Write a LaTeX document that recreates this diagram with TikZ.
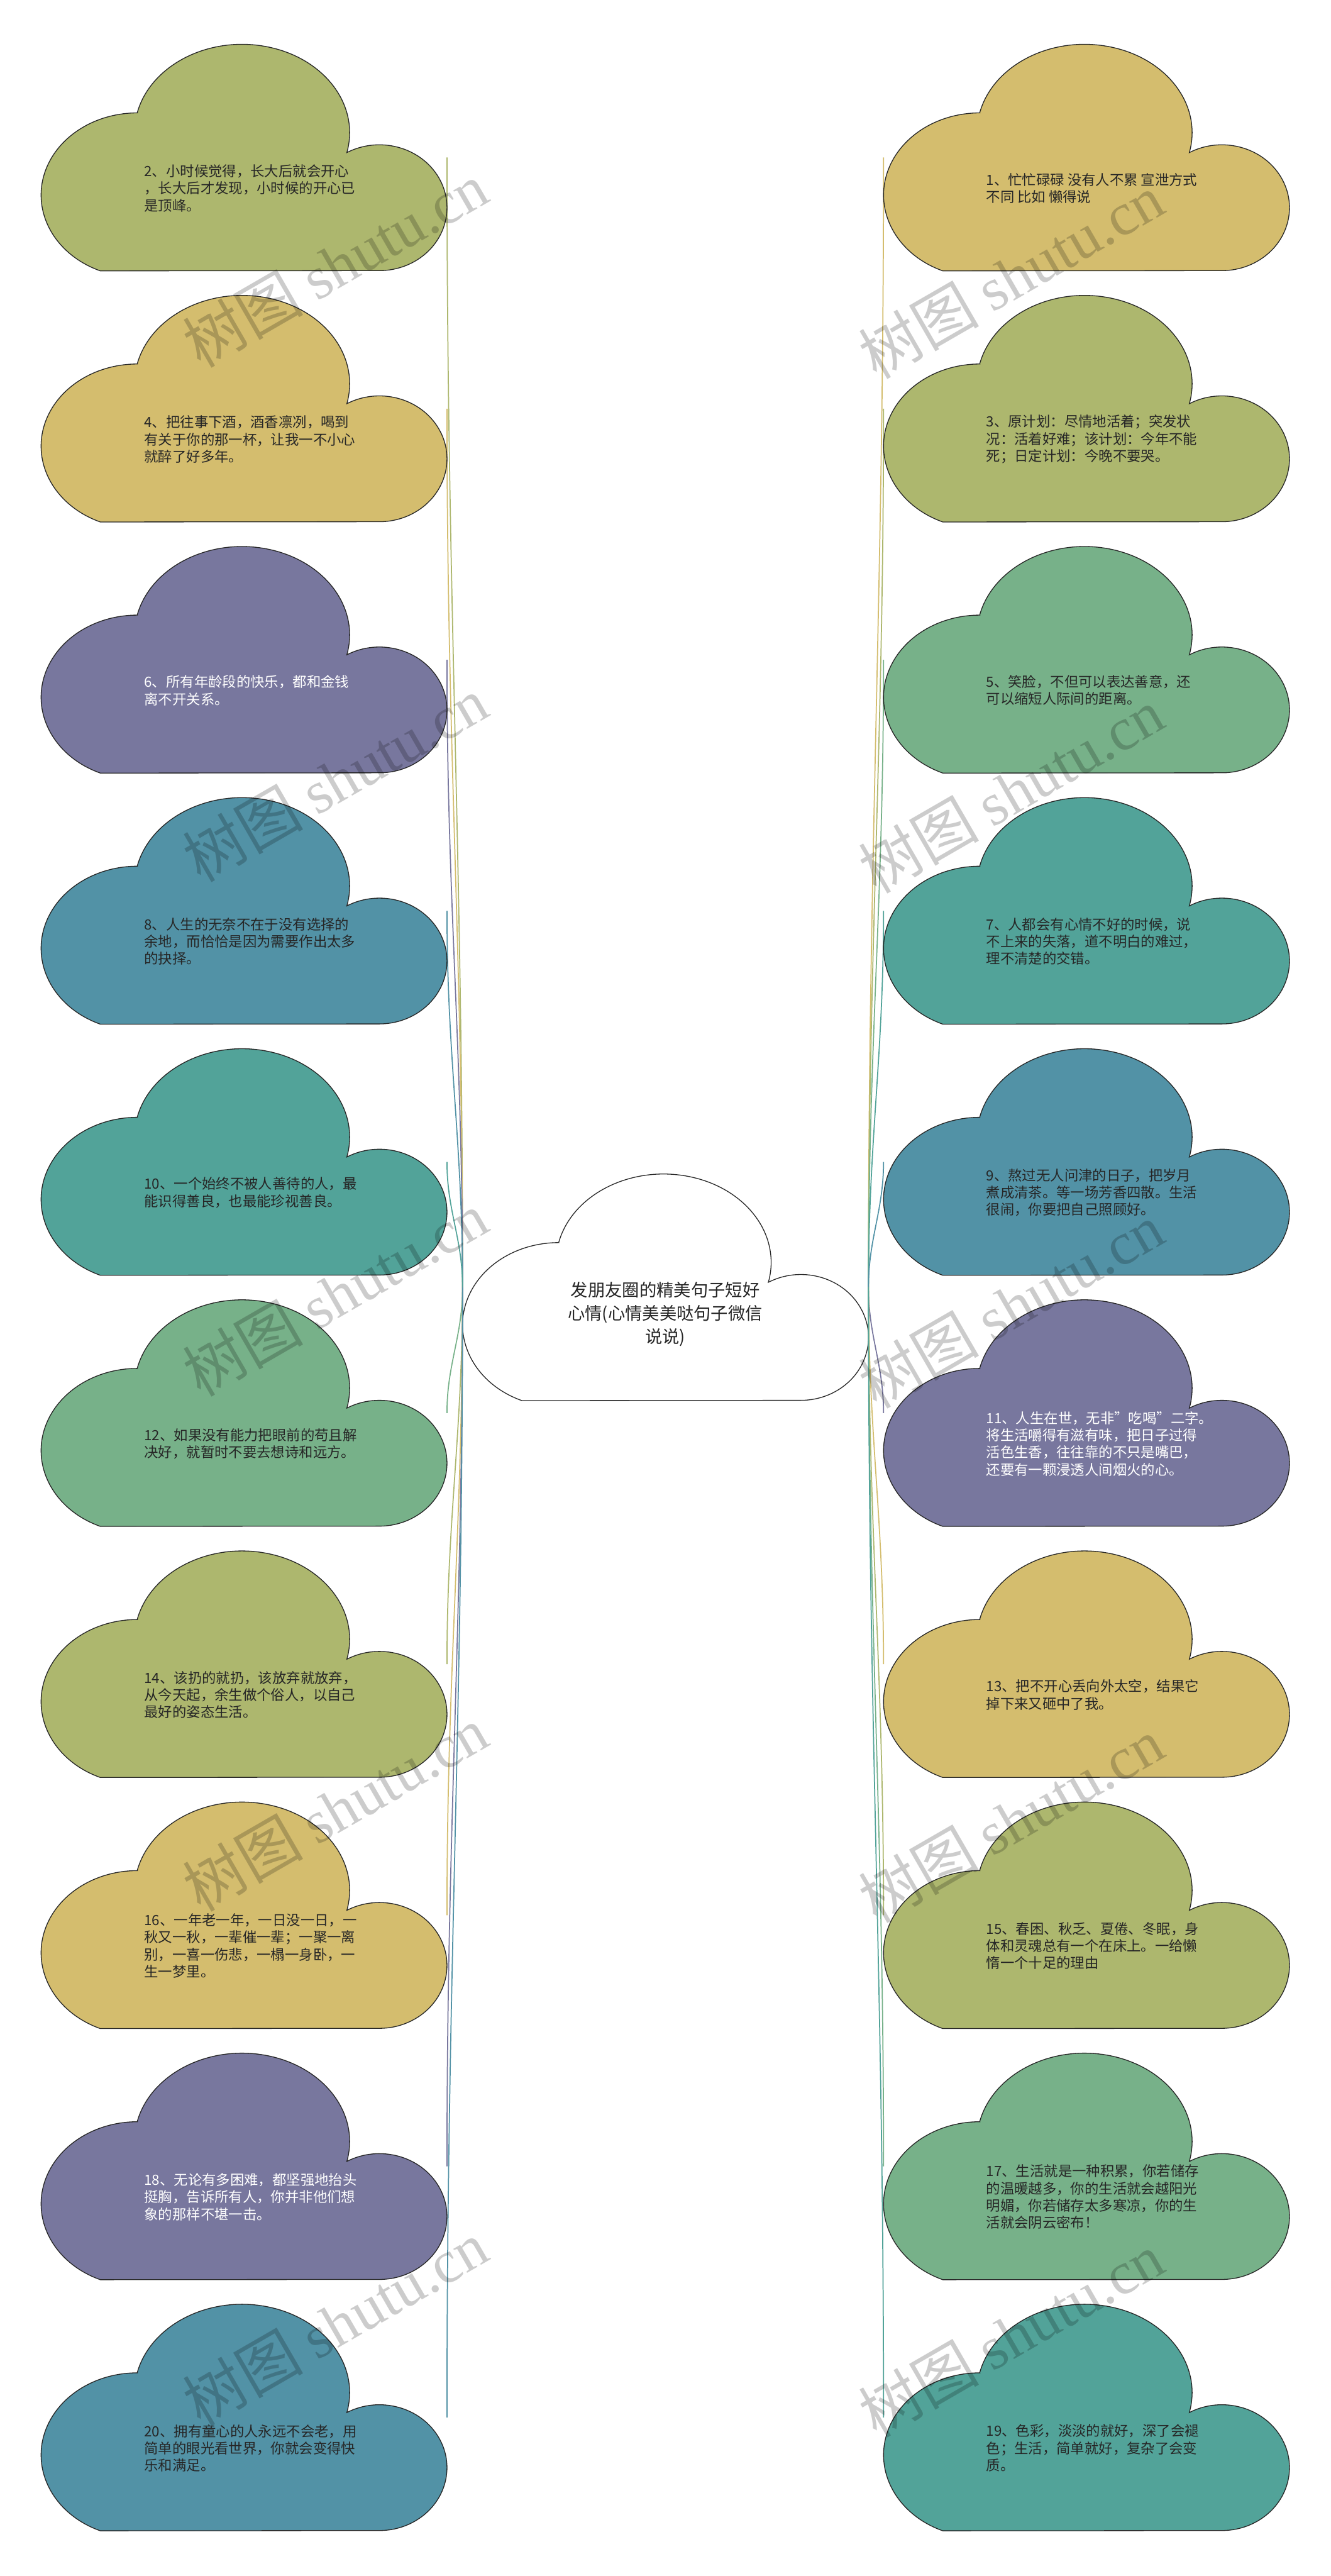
\documentclass[tikz,border=0pt]{standalone}
\usepackage{fontspec}
\setmainfont{Noto Sans CJK SC}
\newfontfamily\wmserif{Liberation Serif}
\usepackage{xcolor}
\usetikzlibrary{calc,positioning}

\definecolor{cOlive}{RGB}{173,183,110}
\definecolor{cMustard}{RGB}{212,189,110}
\definecolor{cPurple}{RGB}{120,119,158}
\definecolor{cSteel}{RGB}{82,146,166}
\definecolor{cTeal}{RGB}{82,163,153}
\definecolor{cSage}{RGB}{119,177,137}
\definecolor{txtDark}{RGB}{38,38,38}

\begin{document}
\begin{tikzpicture}
    \tikzset{cloudbox/.style={anchor=north west, minimum width=7.81cm, minimum height=4.36cm, inner sep=0pt, outer sep=0pt}}
    \tikzset{cloudline/.style={draw=black!85, line width=0.45pt}}
    \tikzset{leaftext/.style={anchor=west, align=left, inner sep=0pt, font=\fontsize{7.7}{9.4}\selectfont}}
    \tikzset{link/.style={line width=0.6pt}}
    \tikzset{wmark/.style={rotate=30, inner sep=0pt, text=black, text opacity=0.2, font=\fontsize{33}{33}\selectfont}}
    % one cloud outline, origin at its top left corner
    \def\cloudpath{(1.85,-1.32)
        arc[start angle=167, end angle=-13, x radius=2.07, y radius=1.70]
        arc[start angle=118.8, end angle=-90, x radius=1.30, y radius=1.21]
        -- (1.14,-4.36)
        arc[start angle=247.4, end angle=90, x radius=1.85, y radius=1.58] -- cycle}

    \fill[white] (0,0) rectangle (25.6,-49.55);
    \useasboundingbox (0,0) rectangle (25.6,-49.55);

    % ROOT CLOUD
    \node[cloudbox] (root) at (8.90,-22.58) {};
    \filldraw[cloudline, fill=white, shift={(root.north west)}] \cloudpath;
    \node[align=center, inner sep=0pt, text=txtDark, font=\fontsize{9.4}{12.8}\selectfont] (roottext)
        at ($(root.north west)+(3.90,-2.70)$) {发朋友圈的精美句子短好\\心情(心情美美哒句子微信\\说说)};

    % LEFT CLOUDS
    \foreach \k/\n/\col/\tc/\txt in {
        0/2/cOlive/txtDark/{2、小时候觉得，长大后就会开心\\，长大后才发现，小时候的开心已\\是顶峰。},
        1/4/cMustard/txtDark/{4、把往事下酒，酒香凛冽，喝到\\有关于你的那一杯，让我一不小心\\就醉了好多年。},
        2/6/cPurple/white/{6、所有年龄段的快乐，都和金钱\\离不开关系。},
        3/8/cSteel/txtDark/{8、人生的无奈不在于没有选择的\\余地，而恰恰是因为需要作出太多\\的抉择。},
        4/10/cTeal/txtDark/{10、一个始终不被人善待的人，最\\能识得善良，也最能珍视善良。},
        5/12/cSage/txtDark/{12、如果没有能力把眼前的苟且解\\决好，就暂时不要去想诗和远方。},
        6/14/cOlive/txtDark/{14、该扔的就扔，该放弃就放弃，\\从今天起，余生做个俗人，以自己\\最好的姿态生活。},
        7/16/cMustard/txtDark/{16、一年老一年，一日没一日，一\\秋又一秋，一辈催一辈；一聚一离\\别，一喜一伤悲，一榻一身卧，一\\生一梦里。},
        8/18/cPurple/white/{18、无论有多困难，都坚强地抬头\\挺胸，告诉所有人，你并非他们想\\象的那样不堪一击。},
        9/20/cSteel/txtDark/{20、拥有童心的人永远不会老，用\\简单的眼光看世界，你就会变得快\\乐和满足。}} {
        \pgfmathsetmacro{\ytop}{-0.85-\k*4.83}
        \pgfmathsetmacro{\outang}{\k<5 ? 90 : -90}
        \pgfmathsetmacro{\inang}{\k<5 ? -90 : 90}
        \node[cloudbox] (c\n) at (0.79,\ytop) {};
        \draw[link, \col] (root.west) to[out=\outang, in=\inang] (c\n.east);
        \filldraw[cloudline, fill=\col, shift={(c\n.north west)}] \cloudpath;
        \node[leaftext, text=\tc] (t\n) at ($(c\n.north west)+(1.98,-2.77)$) {\txt};
    }

    % RIGHT CLOUDS
    \foreach \k/\n/\col/\tc/\txt in {
        0/1/cMustard/txtDark/{1、忙忙碌碌 没有人不累 宣泄方式\\不同 比如 懒得说},
        1/3/cOlive/txtDark/{3、原计划：尽情地活着；突发状\\况：活着好难；该计划：今年不能\\死；日定计划：今晚不要哭。},
        2/5/cSage/txtDark/{5、笑脸，不但可以表达善意，还\\可以缩短人际间的距离。},
        3/7/cTeal/txtDark/{7、人都会有心情不好的时候，说\\不上来的失落，道不明白的难过，\\理不清楚的交错。},
        4/9/cSteel/txtDark/{9、熬过无人问津的日子，把岁月\\煮成清茶。等一场芳香四散。生活\\很闹，你要把自己照顾好。},
        5/11/cPurple/white/{11、人生在世，无非"吃喝"二字。\\将生活嚼得有滋有味，把日子过得\\活色生香，往往靠的不只是嘴巴，\\还要有一颗浸透人间烟火的心。},
        6/13/cMustard/txtDark/{13、把不开心丢向外太空，结果它\\掉下来又砸中了我。},
        7/15/cOlive/txtDark/{15、春困、秋乏、夏倦、冬眠，身\\体和灵魂总有一个在床上。一给懒\\惰一个十足的理由},
        8/17/cSage/txtDark/{17、生活就是一种积累，你若储存\\的温暖越多，你的生活就会越阳光\\明媚，你若储存太多寒凉，你的生\\活就会阴云密布！},
        9/19/cTeal/txtDark/{19、色彩，淡淡的就好，深了会褪\\色；生活，简单就好，复杂了会变\\质。}} {
        \pgfmathsetmacro{\ytop}{-0.85-\k*4.83}
        \pgfmathsetmacro{\outang}{\k<5 ? 90 : -90}
        \pgfmathsetmacro{\inang}{\k<5 ? -90 : 90}
        \node[cloudbox] (c\n) at (17.00,\ytop) {};
        \draw[link, \col] (root.east) to[out=\outang, in=\inang] (c\n.west);
        \filldraw[cloudline, fill=\col, shift={(c\n.north west)}] \cloudpath;
        \node[leaftext, text=\tc] (t\n) at ($(c\n.north west)+(1.97,-2.77)$) {\txt};
    }

    % WATERMARKS
    \foreach \k in {0,...,4} {
        \node[wmark] (wl\k) at (6.45,-5.09-\k*9.90) {树图 {\wmserif shutu.cn}};
        \node[wmark] (wr\k) at (19.45,-5.31-\k*9.90) {树图 {\wmserif shutu.cn}};
    }
\end{tikzpicture}
\end{document}
